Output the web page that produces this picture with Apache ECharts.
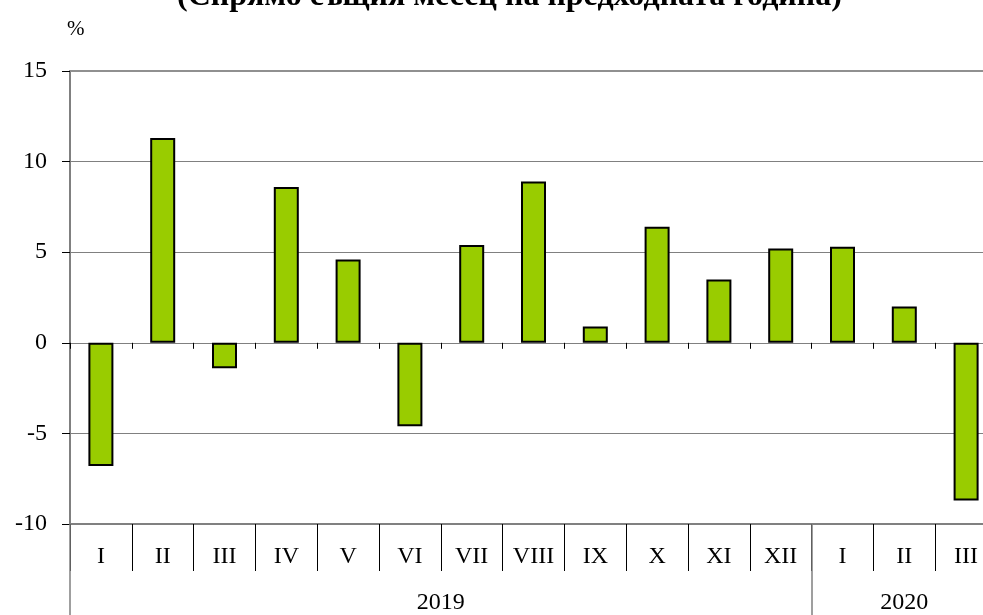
<!DOCTYPE html>
<html>
<head>
<meta charset="utf-8">
<script src="https://cdn.jsdelivr.net/npm/echarts@6/dist/echarts.min.js"></script>
<style>html,body{margin:0;padding:0;background:#fff;}#c{width:983px;height:615px;}</style>
</head>
<body>
<div id="c"></div>
<script>
var titleText = '(Спрямо същия месец на предходната година)';
var months = ['I','II','III','IV','V','VI','VII','VIII','IX','X','XI','XII','I','II','III'];
var values = [-6.8, 11.3, -1.4, 8.6, 4.6, -4.6, 5.4, 8.9, 0.9, 6.4, 3.5, 5.2, 5.3, 2.0, -8.7];
var years = ['2019', '2020'];
var yearCenters = [6, 13.5];
var yearBounds = [0, 12, 15];
var yTicks = [-10, -5, 0, 5, 10, 15];

var font = "Liberation Serif";
var chart = echarts.init(document.getElementById('c'), null, {renderer: 'canvas'});
chart.setOption({
  animation: false,
  backgroundColor: '#fff',
  textStyle: {fontFamily: font},
  title: {
    text: titleText,
    left: 172,
    top: -24,
    textStyle: {fontFamily: font, fontWeight: 'bold', fontSize: 32, color: '#000'}
  },
  grid: {left: 70, top: 71, width: 927, height: 453, containLabel: false, outerBoundsMode: 'none'},
  xAxis: [
    {
      type: 'category', data: months, position: 'bottom',
      axisLine: {onZero: true, lineStyle: {color: '#808080', width: 1}},
      axisTick: {show: true, length: 6, lineStyle: {color: '#000'}},
      axisLabel: {show: false},
      splitLine: {show: false}
    },
    {
      type: 'category', data: months, position: 'bottom',
      axisLine: {onZero: false, lineStyle: {color: '#808080', width: 2}},
      axisTick: {show: true, length: 47, lineStyle: {color: '#000', width: 1}},
      axisLabel: {margin: 21, fontFamily: font, fontSize: 24, color: '#000'},
      splitLine: {show: false}
    },
    {
      type: 'value', min: 0, max: 15, position: 'bottom',
      axisLine: {show: false, onZero: false},
      axisTick: {show: true, length: 91, customValues: yearBounds, lineStyle: {color: '#808080', width: 1.5}},
      axisLabel: {
        customValues: yearCenters, margin: 67, fontFamily: font, fontSize: 24, color: '#000',
        formatter: function (v) { var i = yearCenters.indexOf(v); return i >= 0 ? years[i] : ''; }
      },
      splitLine: {show: false}
    },
    {
      type: 'category', data: months, position: 'top',
      axisLine: {show: true, onZero: false, lineStyle: {color: '#909090', width: 2}},
      axisTick: {show: false},
      axisLabel: {show: false},
      splitLine: {show: false}
    }
  ],
  yAxis: {
    type: 'value', min: yTicks[0], max: yTicks[yTicks.length - 1], interval: 5,
    name: '%', nameLocation: 'end', nameGap: 31,
    nameTextStyle: {fontFamily: font, fontSize: 21, color: '#000', align: 'left', padding: [0, 0, 0, -3]},
    axisLine: {show: true, lineStyle: {color: '#808080', width: 2}},
    axisTick: {show: true, length: 8, lineStyle: {color: '#000'}},
    axisLabel: {margin: 23, fontFamily: font, fontSize: 24, color: '#000'},
    splitLine: {show: true, lineStyle: {color: '#808080', width: 1}}
  },
  series: [{
    type: 'bar', xAxisIndex: 1, data: values, barWidth: 25,
    itemStyle: {color: '#99CC00', borderColor: '#000', borderWidth: 2}
  }]
});
</script>
</body>
</html>
